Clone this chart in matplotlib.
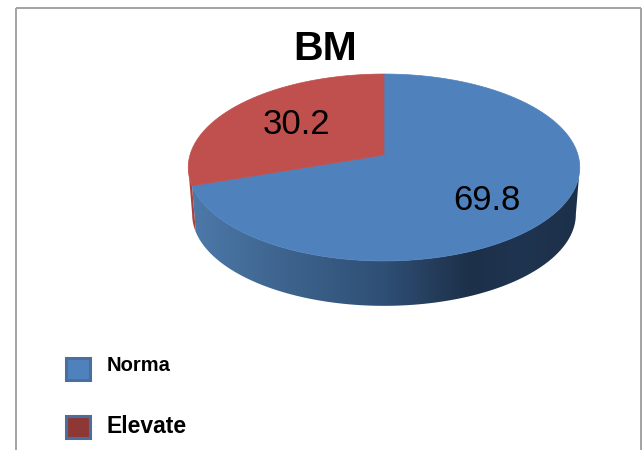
import numpy as np
import matplotlib.pyplot as plt
from matplotlib.colors import LinearSegmentedColormap
from matplotlib.patches import Polygon, Rectangle

# --- Data ---
categories = ['Norma', 'Elevate']
values = [69.8, 30.2]
title = 'BM'

top_colors = ['#4f81bd', '#c0504d']
swatch_colors = ['#4f81bd', '#8e3836']
side_stops = ['#4d79aa', '#3f6690', '#2f4f75', '#1d3049', '#1f3450', '#1d3049']

plt.rcParams['font.family'] = ['Liberation Sans', 'DejaVu Sans']

fig = plt.figure(figsize=(6.43, 4.5), dpi=100)
ax = fig.add_axes([0, 0, 1, 1])
ax.set_xlim(0, 643)
ax.set_ylim(450, 0)
ax.axis('off')

# Tilted disc: a circle seen in perspective, so the centre sits above the middle
cx, cy = 384, 155
rx, ry, k = 194, 91.8, 0.1337


def rim(theta, scale=1.0, drop=0.0):
    # theta runs clockwise from 12 o'clock, in radians
    d = 1 + k * np.cos(theta)
    x = cx + scale * rx * np.sin(theta) / d
    y = cy + drop - scale * ry * np.cos(theta) / d
    return np.column_stack([x, y])


# --- Top face ---
fractions = np.array(values) / sum(values)
edges = np.concatenate([[0], np.cumsum(fractions)]) * 2 * np.pi
for i in range(len(values)):
    theta = np.linspace(edges[i], edges[i + 1], 300)
    pts = np.vstack([[cx, cy], rim(theta)])
    ax.add_patch(Polygon(pts, closed=True, fc=top_colors[i], ec=top_colors[i], lw=0.5, zorder=3))

# --- Side wall ---
depth_scale, depth_drop = 0.98, 47
left_end = 2 * np.pi - np.arccos(-k)
right_end = np.arccos(-k)

blue_theta = np.linspace(right_end, edges[1], 300)
blue_side = np.vstack([rim(blue_theta), rim(blue_theta, depth_scale, depth_drop)[::-1]])
side_patch = Polygon(blue_side, closed=True, fc='none', ec='none', transform=ax.transData)
ax.add_patch(side_patch)

# Horizontal shading across the wall, dark from the middle rightwards
side_cmap = LinearSegmentedColormap.from_list('side', list(zip(
    [0, 0.22, 0.5, 0.72, 0.85, 1], side_stops)))
shade = ax.imshow(np.linspace(0, 1, 256)[None, :], cmap=side_cmap, aspect='auto',
                  extent=(189, 579, 320, 150), zorder=2)
shade.set_clip_path(side_patch)

red_theta = np.linspace(edges[1], left_end, 60)
red_side = np.vstack([rim(red_theta), rim(red_theta, depth_scale, depth_drop)[::-1]])
ax.add_patch(Polygon(red_side, closed=True, fc='#a8403e', ec='none', zorder=2))

ax.set_xlim(0, 643)
ax.set_ylim(450, 0)

# --- Text ---
ax.text(325, 49.5, title, fontsize=29.5, fontweight='bold', ha='center', va='center', zorder=5)
ax.text(486.5, 201, f'{values[0]:.1f}', fontsize=25, ha='center', va='center', zorder=5)
ax.text(296, 124, f'{values[1]:.1f}', fontsize=25, ha='center', va='center', zorder=5)

# --- Legend ---
legend_y = [368.5, 426.5]
legend_text_y = [365.5, 426.5]
legend_size = [14.5, 16.5]
for name, color, y, ty, size in zip(categories, swatch_colors, legend_y, legend_text_y, legend_size):
    ax.add_patch(Rectangle((66, y - 11), 24, 22, fc=color, ec='#4a6f9f', lw=2.2, zorder=4))
    ax.text(106.5, ty, name, fontsize=size, fontweight='bold', ha='left', va='center', zorder=5)

# --- Outer frame, open at the bottom ---
ax.plot([16, 16], [450, 8], color='#a3a3a3', lw=1.4, solid_capstyle='butt')
ax.plot([16, 641], [8, 8], color='#a3a3a3', lw=1.4, solid_capstyle='butt')
ax.plot([641, 641], [8, 450], color='#a3a3a3', lw=1.4, solid_capstyle='butt')

fig.savefig('out.png', dpi=100, facecolor='white')
